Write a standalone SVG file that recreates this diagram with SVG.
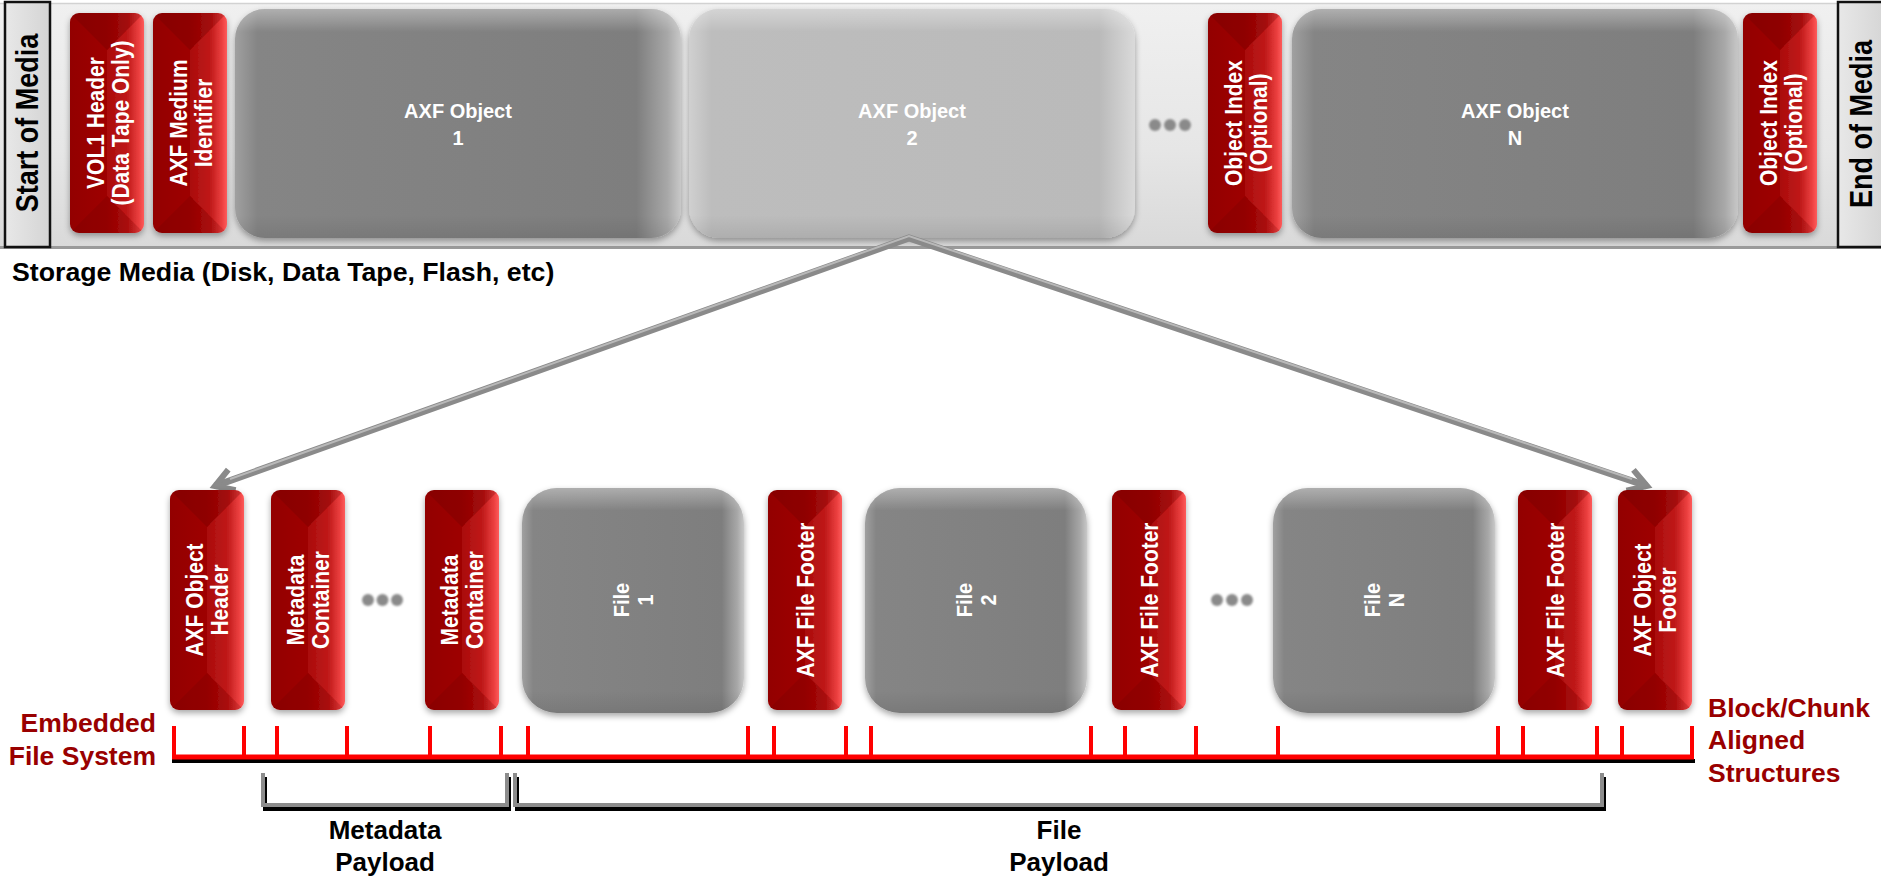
<svg xmlns="http://www.w3.org/2000/svg" xmlns:xlink="http://www.w3.org/1999/xlink" width="1881" height="878" viewBox="0 0 1881 878">
<defs>
<style>
text{font-family:"Liberation Sans",Arial,Helvetica,sans-serif;font-weight:bold}
.w{fill:#fff}
.r21{font-size:21px;text-anchor:middle}
.h20{font-size:20px;text-anchor:middle}
.edge{font-size:27px;text-anchor:middle;fill:#000}
.lab{fill:#990000;font-size:26.5px}
.pay{font-size:26px;text-anchor:middle;fill:#000}
.dot{fill:#8a8a8a;filter:url(#blur)}
.gbox{fill:url(#gH);filter:url(#sh)}
.lbox{fill:url(#lH);filter:url(#sh)}
.gov{fill:url(#gV)}
.red{filter:url(#sh)}
.brk{fill:none;stroke:#8c8c8c;stroke-width:4}
.brks{fill:none;stroke:#000;stroke-width:4}
</style>
<filter id="sh" x="-20%" y="-20%" width="140%" height="140%">
<feDropShadow dx="0" dy="3" stdDeviation="3" flood-color="#000" flood-opacity="0.35"/>
</filter>
<filter id="blur" x="-50%" y="-50%" width="200%" height="200%">
<feGaussianBlur stdDeviation="0.9"/>
</filter>
<linearGradient id="redH" x1="0" x2="1" y1="0" y2="0">
<stop offset="0" stop-color="#930000"/>
<stop offset="0.5" stop-color="#9e0000"/>
<stop offset="0.78" stop-color="#b81010"/>
<stop offset="0.93" stop-color="#e83a3a"/>
<stop offset="1" stop-color="#ff5a5a"/>
</linearGradient>
<linearGradient id="gH" x1="0" x2="1" y1="0" y2="0">
<stop offset="0" stop-color="#a0a0a0"/>
<stop offset="0.05" stop-color="#858585"/>
<stop offset="0.9" stop-color="#7e7e7e"/>
<stop offset="0.97" stop-color="#a8a8a8"/>
<stop offset="1" stop-color="#c8c8c8"/>
</linearGradient>
<linearGradient id="lH" x1="0" x2="1" y1="0" y2="0">
<stop offset="0" stop-color="#d0d0d0"/>
<stop offset="0.05" stop-color="#bdbdbd"/>
<stop offset="0.92" stop-color="#bababa"/>
<stop offset="1" stop-color="#dadada"/>
</linearGradient>
<linearGradient id="gV" x1="0" x2="0" y1="0" y2="1">
<stop offset="0" stop-color="#fff" stop-opacity="0.35"/>
<stop offset="0.1" stop-color="#fff" stop-opacity="0"/>
<stop offset="0.9" stop-color="#000" stop-opacity="0"/>
<stop offset="1" stop-color="#000" stop-opacity="0.08"/>
</linearGradient>
<linearGradient id="barG" x1="0" x2="0" y1="0" y2="1">
<stop offset="0" stop-color="#f0f0f0"/>
<stop offset="0.6" stop-color="#e6e6e6"/>
<stop offset="1" stop-color="#d9d9d9"/>
</linearGradient>
<linearGradient id="edgeG" x1="0" x2="1" y1="0" y2="0">
<stop offset="0" stop-color="#e8e8e8"/>
<stop offset="1" stop-color="#d4d4d4"/>
</linearGradient>
<clipPath id="rbc"><rect width="74" height="220" rx="9"/></clipPath>
<g id="rb">
<g clip-path="url(#rbc)">
<rect width="74" height="220" fill="url(#redH)"/>
<path d="M0,0 L74,0 L37,37 Z" fill="#5a0000" opacity="0.22"/>
<path d="M0,220 L74,220 L37,183 Z" fill="#5a0000" opacity="0.15"/>
<path d="M74,0 L37,37 L37,183 L74,220 Z" fill="#ff6060" opacity="0.12"/>
</g>
</g>
<marker id="ah" markerUnits="userSpaceOnUse" viewBox="-26 -16 34 32" markerWidth="34" markerHeight="32" refX="0" refY="0" orient="auto-start-reverse">
<path d="M-18,-11 L0,0 L-18,11" fill="none" stroke="#8a8a8a" stroke-width="6" stroke-linejoin="miter"/>
</marker>
</defs>

<rect x="0" y="0" width="1881" height="878" fill="#fff"/>

<g id="storage-bar">
<rect x="0" y="3" width="1881" height="244" fill="url(#barG)"/>
<line x1="0" y1="3.5" x2="1881" y2="3.5" stroke="#d2d2d2" stroke-width="1.5"/>
<line x1="0" y1="247.5" x2="1881" y2="247.5" stroke="#9a9a9a" stroke-width="3"/>
</g>

<g id="start-of-media">
<rect x="5" y="2" width="45" height="245" fill="url(#edgeG)" stroke="#111" stroke-width="2.5"/>
<text class="edge" transform="translate(28,123) scale(1.18,1) rotate(-90)" y="8.5">Start of Media</text>
</g>
<g id="end-of-media">
<rect x="1838" y="2" width="50" height="245" fill="url(#edgeG)" stroke="#111" stroke-width="2.5"/>
<text class="edge" transform="translate(1862,124) scale(1.18,1) rotate(-90)" y="8.5">End of Media</text>
</g>

<g id="vol1-header">
<use xlink:href="#rb" href="#rb" x="70" y="13" class="red"/>
<text class="w r21" transform="translate(107,123) scale(1.15,1) rotate(-90)"><tspan x="0" y="-3">VOL1 Header</tspan><tspan x="0" y="19.5">(Data Tape Only)</tspan></text>
</g>
<g id="axf-medium-identifier">
<use xlink:href="#rb" href="#rb" x="153" y="13" class="red"/>
<text class="w r21" transform="translate(190,123) scale(1.15,1) rotate(-90)"><tspan x="0" y="-3">AXF Medium</tspan><tspan x="0" y="19.5">Identifier</tspan></text>
</g>
<g id="axf-object-1">
<rect x="235" y="9" width="446" height="229" rx="30" class="gbox"/>
<rect x="235" y="9" width="446" height="229" rx="30" class="gov"/>
<text class="w h20" x="458" y="118">AXF Object</text>
<text class="w h20" x="458" y="145">1</text>
</g>
<g id="axf-object-2">
<rect x="689" y="9" width="446" height="229" rx="30" class="lbox"/>
<rect x="689" y="9" width="446" height="229" rx="30" class="gov"/>
<text class="w h20" x="912" y="118">AXF Object</text>
<text class="w h20" x="912" y="145">2</text>
</g>
<g id="top-ellipsis">
<circle class="dot" cx="1155" cy="125" r="6"/>
<circle class="dot" cx="1170" cy="125" r="6"/>
<circle class="dot" cx="1185" cy="125" r="6"/>
</g>
<g id="object-index-1">
<use xlink:href="#rb" href="#rb" x="1208" y="13" class="red"/>
<text class="w r21" transform="translate(1245,123) scale(1.15,1) rotate(-90)"><tspan x="0" y="-3">Object Index</tspan><tspan x="0" y="19.5">(Optional)</tspan></text>
</g>
<g id="axf-object-n">
<rect x="1292" y="9" width="446" height="229" rx="30" class="gbox"/>
<rect x="1292" y="9" width="446" height="229" rx="30" class="gov"/>
<text class="w h20" x="1515" y="118">AXF Object</text>
<text class="w h20" x="1515" y="145">N</text>
</g>
<g id="object-index-2">
<use xlink:href="#rb" href="#rb" x="1743" y="13" class="red"/>
<text class="w r21" transform="translate(1780,123) scale(1.15,1) rotate(-90)"><tspan x="0" y="-3">Object Index</tspan><tspan x="0" y="19.5">(Optional)</tspan></text>
</g>

<g id="storage-media-label">
<text x="12" y="281" font-size="26.7" fill="#000">Storage Media (Disk, Data Tape, Flash, etc)</text>
</g>

<g id="connectors">
<path d="M215,486 L909,238 L1647,486" fill="none" stroke="#8a8a8a" stroke-width="7" stroke-linejoin="miter" marker-start="url(#ah)" marker-end="url(#ah)"/>
<path d="M230,479 L909,236 L1632,479" fill="none" stroke="#b8b8b8" stroke-width="2" stroke-linejoin="miter"/>
</g>

<g id="axf-object-header">
<use xlink:href="#rb" href="#rb" x="170" y="490" class="red"/>
<text class="w r21" transform="translate(207,600) scale(1.15,1) rotate(-90)"><tspan x="0" y="-3.5">AXF Object</tspan><tspan x="0" y="18.5">Header</tspan></text>
</g>
<g id="metadata-container-1">
<use xlink:href="#rb" href="#rb" x="271" y="490" class="red"/>
<text class="w r21" transform="translate(308,600) scale(1.15,1) rotate(-90)"><tspan x="0" y="-3.5">Metadata</tspan><tspan x="0" y="18.5">Container</tspan></text>
</g>
<g id="meta-ellipsis">
<circle class="dot" cx="368" cy="600" r="6"/>
<circle class="dot" cx="382.5" cy="600" r="6"/>
<circle class="dot" cx="397" cy="600" r="6"/>
</g>
<g id="metadata-container-2">
<use xlink:href="#rb" href="#rb" x="425" y="490" class="red"/>
<text class="w r21" transform="translate(462,600) scale(1.15,1) rotate(-90)"><tspan x="0" y="-3.5">Metadata</tspan><tspan x="0" y="18.5">Container</tspan></text>
</g>
<g id="file-1">
<rect x="522" y="488" width="222" height="225" rx="35" class="gbox"/>
<rect x="522" y="488" width="222" height="225" rx="35" class="gov"/>
<text class="w h20" transform="translate(633,600) scale(1.1,1) rotate(-90)"><tspan x="0" y="-3.5">File</tspan><tspan x="0" y="18">1</tspan></text>
</g>
<g id="axf-file-footer-1">
<use xlink:href="#rb" href="#rb" x="768" y="490" class="red"/>
<text class="w r21" transform="translate(805,600) scale(1.15,1) rotate(-90)" y="7.5">AXF File Footer</text>
</g>
<g id="file-2">
<rect x="865" y="488" width="222" height="225" rx="35" class="gbox"/>
<rect x="865" y="488" width="222" height="225" rx="35" class="gov"/>
<text class="w h20" transform="translate(976,600) scale(1.1,1) rotate(-90)"><tspan x="0" y="-3.5">File</tspan><tspan x="0" y="18">2</tspan></text>
</g>
<g id="axf-file-footer-2">
<use xlink:href="#rb" href="#rb" x="1112" y="490" class="red"/>
<text class="w r21" transform="translate(1149,600) scale(1.15,1) rotate(-90)" y="7.5">AXF File Footer</text>
</g>
<g id="file-ellipsis">
<circle class="dot" cx="1217" cy="600" r="6"/>
<circle class="dot" cx="1232" cy="600" r="6"/>
<circle class="dot" cx="1247" cy="600" r="6"/>
</g>
<g id="file-n">
<rect x="1273" y="488" width="222" height="225" rx="35" class="gbox"/>
<rect x="1273" y="488" width="222" height="225" rx="35" class="gov"/>
<text class="w h20" transform="translate(1384,600) scale(1.1,1) rotate(-90)"><tspan x="0" y="-3.5">File</tspan><tspan x="0" y="18">N</tspan></text>
</g>
<g id="axf-file-footer-3">
<use xlink:href="#rb" href="#rb" x="1518" y="490" class="red"/>
<text class="w r21" transform="translate(1555,600) scale(1.15,1) rotate(-90)" y="7.5">AXF File Footer</text>
</g>
<g id="axf-object-footer">
<use xlink:href="#rb" href="#rb" x="1618" y="490" class="red"/>
<text class="w r21" transform="translate(1655,600) scale(1.15,1) rotate(-90)"><tspan x="0" y="-3.5">AXF Object</tspan><tspan x="0" y="18.5">Footer</tspan></text>
</g>

<g id="block-ruler">
<path d="M172,761 H1695" stroke="#000" stroke-width="4"/>
<path d="M172,757 H1694" stroke="#ff0000" stroke-width="5"/>
<path d="M174,726V759M244,726V759M277,726V759M347,726V759M430,726V759M501,726V759M528,726V759M748,726V759M774,726V759M846,726V759M871,726V759M1091,726V759M1125,726V759M1196,726V759M1278,726V759M1498,726V759M1523,726V759M1597,726V759M1622,726V759M1692,726V759" stroke="#ff0000" stroke-width="4"/>
</g>

<g id="embedded-fs-label">
<text class="lab" x="156" y="732" text-anchor="end" font-size="27">Embedded</text>
<text class="lab" x="156" y="765" text-anchor="end" font-size="27">File System</text>
</g>
<g id="block-aligned-label">
<text class="lab" x="1708" y="717">Block/Chunk</text>
<text class="lab" x="1708" y="749">Aligned</text>
<text class="lab" x="1708" y="782">Structures</text>
</g>

<g id="metadata-payload">
<polyline class="brks" points="265,777 265,809 509,809 509,777"/>
<polyline class="brk" points="263,773 263,805 507,805 507,773"/>
<text class="pay" x="385" y="839">Metadata</text>
<text class="pay" x="385" y="871">Payload</text>
</g>
<g id="file-payload">
<polyline class="brks" points="517,777 517,809 1604,809 1604,777"/>
<polyline class="brk" points="515,773 515,805 1602,805 1602,773"/>
<text class="pay" x="1059" y="839">File</text>
<text class="pay" x="1059" y="871">Payload</text>
</g>
</svg>
